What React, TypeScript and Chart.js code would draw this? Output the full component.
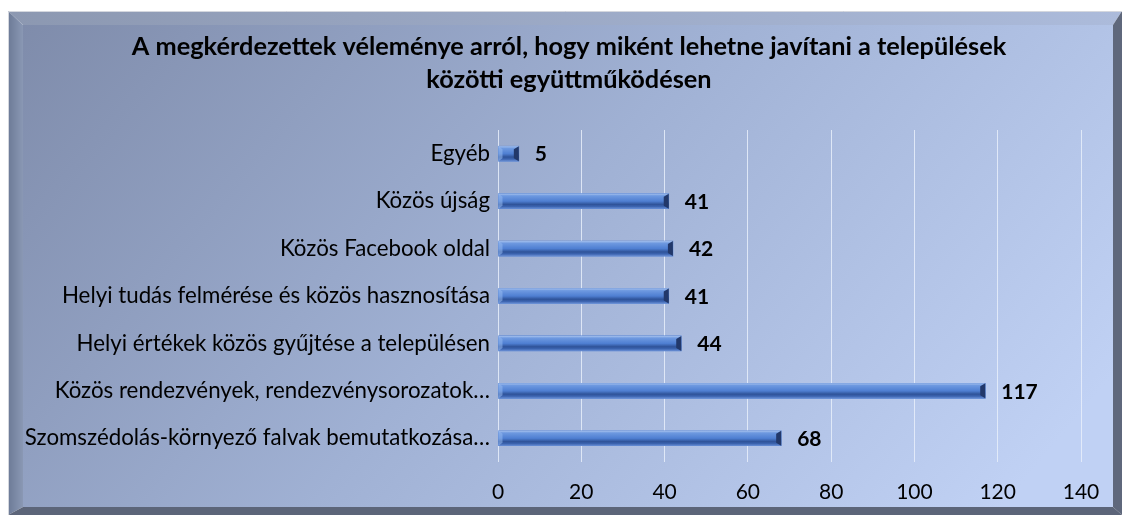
import React, { useEffect, useRef } from "react";
import { Chart, registerables } from "chart.js";

Chart.register(...registerables);

const categories = [
  "Egyéb",
  "Közös újság",
  "Közös Facebook oldal",
  "Helyi tudás felmérése és közös hasznosítása",
  "Helyi értékek közös gyűjtése a településen",
  "Közös rendezvények, rendezvénysorozatok…",
  "Szomszédolás-környező falvak bemutatkozása…",
];
const values = [5, 41, 42, 41, 44, 117, 68];
const titleLines = [
  "A megkérdezettek véleménye arról, hogy miként lehetne javítani a települések",
  "közötti együttműködésen",
];
const xMin = 0;
const xMax = 140;
const xStep = 20;

const FONT = "Lato, 'Open Sans', sans-serif";

const framePlugin = {
  id: "frame",
  beforeDraw(chart: any) {
    const ctx = chart.ctx as CanvasRenderingContext2D;
    const W = chart.width;
    const H = chart.height;
    ctx.save();
    ctx.fillStyle = "#ffffff";
    ctx.fillRect(0, 0, W, H);
    const L = 8, T = 11, R = W, B = H;
    const fl = 23, ft = 25, fr = W - 9, fb = H - 8;
    // face
    const g = ctx.createLinearGradient(fl, ft, fr * 0.75, fb + 200);
    g.addColorStop(0, "#7f8cab");
    g.addColorStop(0.5, "#a0b1d4");
    g.addColorStop(1, "#c0d1f4");
    ctx.fillStyle = g;
    ctx.fillRect(fl, ft, fr - fl, fb - ft);
    // top bevel
    ctx.beginPath();
    ctx.moveTo(L, T); ctx.lineTo(R, T); ctx.lineTo(fr, ft); ctx.lineTo(fl, ft); ctx.closePath();
    const gt = ctx.createLinearGradient(L, 0, R, 0);
    gt.addColorStop(0, "#8c98b1");
    gt.addColorStop(1, "#acbbdb");
    ctx.fillStyle = gt;
    ctx.fill();
    // left bevel
    ctx.beginPath();
    ctx.moveTo(L, T); ctx.lineTo(fl, ft); ctx.lineTo(fl, fb); ctx.lineTo(L, B); ctx.closePath();
    const gl = ctx.createLinearGradient(L, 0, fl, 0);
    gl.addColorStop(0, "#6c7a96");
    gl.addColorStop(1, "#8a98b4");
    ctx.fillStyle = gl;
    ctx.fill();
    // right bevel
    ctx.beginPath();
    ctx.moveTo(R, T); ctx.lineTo(R, B); ctx.lineTo(fr, fb); ctx.lineTo(fr, ft); ctx.closePath();
    ctx.fillStyle = "#5f687c";
    ctx.fill();
    // bottom bevel
    ctx.beginPath();
    ctx.moveTo(L, B); ctx.lineTo(fl, fb); ctx.lineTo(fr, fb); ctx.lineTo(R, B); ctx.closePath();
    ctx.fillStyle = "#5c6579";
    ctx.fill();
    // outer light line
    ctx.strokeStyle = "#d4d7de";
    ctx.lineWidth = 1;
    ctx.beginPath();
    ctx.moveTo(L + 0.5, B);
    ctx.lineTo(L + 0.5, T + 0.5);
    ctx.lineTo(R, T + 0.5);
    ctx.stroke();
    ctx.restore();
  },
  afterDraw(chart: any) {
    const ctx = chart.ctx as CanvasRenderingContext2D;
    ctx.save();
    ctx.fillStyle = "#000000";
    ctx.font = `bold 25.3px ${FONT}`;
    ctx.textAlign = "center";
    ctx.textBaseline = "middle";
    titleLines.forEach((line, i) => {
      ctx.fillText(line, 569, 47 + i * 33);
    });
    ctx.restore();
  },
};

const barStylePlugin = {
  id: "barStyle",
  afterDatasetsDraw(chart: any) {
    const ctx = chart.ctx as CanvasRenderingContext2D;
    const meta = chart.getDatasetMeta(0);
    ctx.save();
    meta.data.forEach((bar: any, i: number) => {
      const x0 = bar.base;
      const x1 = bar.x;
      const h = bar.height;
      const top = bar.y - h / 2;
      const bot = bar.y + h / 2;
      const g = ctx.createLinearGradient(0, top, 0, bot);
      g.addColorStop(0, "#a7c2ee");
      g.addColorStop(0.14, "#6e99e0");
      g.addColorStop(0.5, "#4f7fd2");
      g.addColorStop(0.72, "#2f5399");
      g.addColorStop(0.86, "#3c64b0");
      g.addColorStop(1, "#6a8fd4");
      ctx.fillStyle = g;
      ctx.fillRect(x0, top, x1 - x0, h);
      const cap = Math.min(5, (x1 - x0) / 2);
      // right end cap
      ctx.beginPath();
      ctx.moveTo(x1 - cap, top + 3);
      ctx.lineTo(x1, top);
      ctx.lineTo(x1, bot);
      ctx.lineTo(x1 - cap, bot - 3);
      ctx.closePath();
      ctx.fillStyle = "#22386a";
      ctx.fill();
      // left end bevel
      ctx.beginPath();
      ctx.moveTo(x0, top);
      ctx.lineTo(x0 + cap * 0.8, top + 3);
      ctx.lineTo(x0 + cap * 0.8, bot - 3);
      ctx.lineTo(x0, bot);
      ctx.closePath();
      ctx.fillStyle = "rgba(150,185,240,0.55)";
      ctx.fill();
      // value label
      ctx.fillStyle = "#000000";
      ctx.font = `bold 21px ${FONT}`;
      ctx.textAlign = "left";
      ctx.textBaseline = "middle";
      ctx.fillText(String(values[i]), x1 + 16, bar.y + 1);
    });
    ctx.restore();
  },
};

export default function App() {
  const ref = useRef<HTMLCanvasElement | null>(null);
  useEffect(() => {
    document.body.style.margin = "0";
    const canvas = ref.current;
    if (!canvas) return;
    const chart = new Chart(canvas, {
      type: "bar",
      data: {
        labels: categories,
        datasets: [
          {
            data: values,
            backgroundColor: "#4f7fd2",
            borderWidth: 0,
            barThickness: 15,
          },
        ],
      },
      options: {
        indexAxis: "y",
        animation: false,
        responsive: false,
        maintainAspectRatio: false,
        events: [],
        layout: { padding: { top: 130, right: 41, bottom: 8, left: 0 } },
        plugins: {
          legend: { display: false },
          tooltip: { enabled: false },
          title: { display: false },
        },
        scales: {
          x: {
            type: "linear",
            min: xMin,
            max: xMax,
            ticks: {
              stepSize: xStep,
              color: "#000000",
              font: { family: FONT, size: 21 },
              padding: 18,
            },
            grid: {
              color: "rgba(232,238,250,0.85)",
              lineWidth: 1,
              drawTicks: false,
            },
            border: { display: false },
            afterFit(scale: any) {
              scale.height = 45;
            },
          },
          y: {
            type: "category",
            ticks: {
              color: "#000000",
              font: { family: FONT, size: 22.3 },
              padding: 8,
              autoSkip: false,
            },
            grid: { display: false, drawTicks: false },
            border: { display: false },
            afterFit(scale: any) {
              scale.width = 498;
            },
          },
        },
      },
      plugins: [framePlugin, barStylePlugin],
    });
    return () => chart.destroy();
  }, []);
  return (
    <div style={{ width: 1122, height: 515 }}>
      <canvas ref={ref} width={1122} height={515} style={{ display: "block" }} />
    </div>
  );
}
